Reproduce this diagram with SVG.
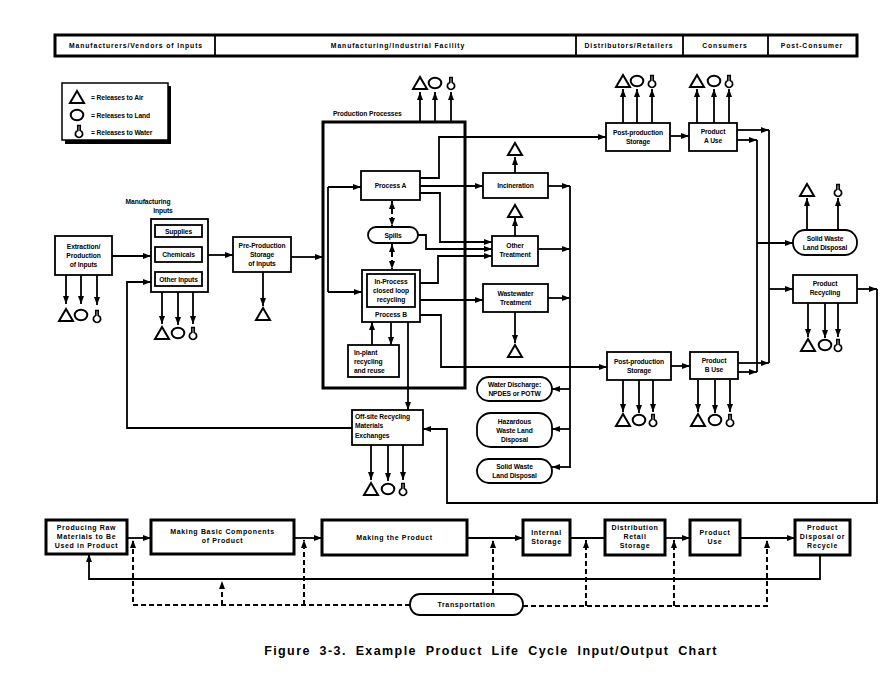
<svg xmlns="http://www.w3.org/2000/svg" width="890" height="677" viewBox="0 0 890 677">
<style>
.n{fill:#fff;stroke:#000;stroke-width:1.8}
.nb{fill:#fff;stroke:#000;stroke-width:3}
.t{font-family:"Liberation Sans",Arial,sans-serif;font-size:6.7px;font-weight:bold;text-anchor:middle;fill:#000;letter-spacing:-0.1px}
.tl{text-anchor:start}
.h{font-size:6.8px;letter-spacing:0.9px}
.f{font-size:7px;letter-spacing:0.65px}
.c{fill:none;stroke:#000;stroke-width:1.8}
.a{marker-end:url(#ah)}
.d{stroke-dasharray:5,3;stroke-width:2}
.s{fill:#fff;stroke:#000;stroke-width:2}
.sw{fill:#fff;stroke:#000;stroke-width:1.7}
.cap{font-family:"Liberation Sans",Arial,sans-serif;font-size:12.5px;font-weight:bold;text-anchor:middle;letter-spacing:1.4px;word-spacing:4px}
</style>
<defs>
<marker id="ah" markerUnits="userSpaceOnUse" markerWidth="8" markerHeight="6" refX="8" refY="3" orient="auto"><path d="M0,0 L8,3 L0,6 z" fill="#000"/></marker>
<marker id="ahs" markerUnits="userSpaceOnUse" markerWidth="8" markerHeight="6" refX="0" refY="3" orient="auto"><path d="M8,0 L0,3 L8,6 z" fill="#000"/></marker>
<g id="air"><polygon class="s" points="-7,6 0,-6 7,6"/></g>
<g id="land"><ellipse class="s" cx="0" cy="0" rx="6.3" ry="5.3"/></g>
<g id="water"><path class="sw" d="M-1.2,-6.5 L1.2,-6.5 L1.2,-1.5 A3.6,3.6 0 1 1 -1.2,-1.5 Z"/></g>
</defs>
<rect width="890" height="677" fill="#fff"/>

<g id="header">
<rect x="55" y="35" width="802" height="21" fill="#fff" stroke="#000" stroke-width="3"/>
<path d="M215,35 V56 M576,35 V56 M683,35 V56 M768,35 V56" stroke="#000" stroke-width="1.8"/>
<text class="t h" x="136" y="48">Manufacturers/Vendors  of  Inputs</text>
<text class="t h" x="398" y="48">Manufacturing/Industrial  Facility</text>
<text class="t h" x="629" y="48">Distributors/Retailers</text>
<text class="t h" x="725" y="48">Consumers</text>
<text class="t h" x="812" y="48">Post-Consumer</text>
</g>

<g id="legend">
<rect x="65" y="86" width="106" height="58" fill="#000"/>
<rect x="62" y="83" width="106" height="57" fill="#fff" stroke="#000" stroke-width="1.5"/>
<use href="#air" x="77" y="97"/>
<use href="#land" x="77" y="115"/>
<use href="#water" x="79" y="132"/>
<text class="t tl" x="91" y="100">= Releases to Air</text>
<text class="t tl" x="91" y="118">= Releases to Land</text>
<text class="t tl" x="91" y="135">= Releases to Water</text>
</g>

<g id="production-processes">
<text class="t tl" x="333" y="116">Production Processes</text>
<rect x="323" y="122" width="142" height="266" style="fill:none;stroke:#000;stroke-width:3"/>
<use href="#air" x="420" y="83"/><use href="#land" x="435" y="83"/><use href="#water" x="451" y="84"/>
</g>

<g id="connectors">
<path class="c a" d="M112,256 H151"/>
<path class="c a" d="M208,255 H233"/>
<path class="c a" d="M291,257 H323"/>
<path class="c" d="M328,187 V292"/>
<path class="c a" d="M328,187 H361"/>
<path class="c a" d="M328,292 H362"/>
<path class="c a" d="M66,275 V304"/><path class="c a" d="M81,275 V304"/><path class="c a" d="M97,275 V305"/>
<path class="c a" d="M162,292 V324"/><path class="c a" d="M178,292 V325"/><path class="c a" d="M193,292 V324"/>
<path class="c a" d="M263,272 V306"/>
<path class="c a" d="M420,122 V92"/><path class="c a" d="M435,122 V92"/><path class="c a" d="M451,122 V92"/>
<path class="c a" d="M420,178 H439 V137 H606"/>
<path class="c a" d="M420,186 H483"/>
<path class="c a" d="M420,193 H440 V242 H492"/>
<path class="c a" d="M418,235 H426 V249 H492"/>
<path class="c a" d="M420,283 H438 V256 H492"/>
<path class="c a" d="M420,300 H483"/>
<path class="c a" d="M420,315 H441 V367 H607"/>
<path class="c d a" d="M392,201 V226" marker-start="url(#ahs)"/>
<path class="c d a" d="M392,244 V269" marker-start="url(#ahs)"/>
<path class="c a" d="M372,345 V322"/>
<path class="c a" d="M391,322 V345"/>
<path class="c a" d="M408,322 V410"/>
<path class="c a" d="M352,428 H127 V282 H151"/>
<path class="c a" d="M857,289 H877"/>
<path class="c a" d="M877,289 V503 H447 V429 H423"/>
<path class="c a" d="M548,186 H570"/>
<path class="c a" d="M538,249 H570"/>
<path class="c a" d="M548,298 H570"/>
<path class="c" d="M570,186 V468"/>
<path class="c a" d="M570,389 H552"/>
<path class="c a" d="M570,429 H552"/>
<path class="c a" d="M570,467 H552"/>
<path class="c a" d="M515,173 V157"/>
<path class="c a" d="M515,236 V218"/>
<path class="c a" d="M515,312 V343"/>
<path class="c a" d="M623,123 V89"/><path class="c a" d="M637,123 V89"/><path class="c a" d="M652,123 V89"/>
<path class="c a" d="M670,136 H689"/>
<path class="c a" d="M697,123 V89"/><path class="c a" d="M714,123 V89"/><path class="c a" d="M729,123 V89"/>
<path class="c a" d="M737,130 H769"/>
<path class="c a" d="M737,140 H757"/>
<path class="c" d="M769,130 V363"/>
<path class="c" d="M757,140 V372"/>
<path class="c a" d="M757,243 H793"/>
<path class="c a" d="M769,289 H793"/>
<path class="c a" d="M738,363 H769"/>
<path class="c a" d="M738,372 H757"/>
<path class="c a" d="M671,366 H690"/>
<path class="c a" d="M623,380 V412"/><path class="c a" d="M639,380 V413"/><path class="c a" d="M653,380 V412"/>
<path class="c a" d="M698,380 V412"/><path class="c a" d="M715,380 V413"/><path class="c a" d="M730,380 V412"/>
<path class="c a" d="M807,230 V198"/><path class="c a" d="M838,230 V198"/>
<path class="c a" d="M808,303 V337"/><path class="c a" d="M825,303 V338"/><path class="c a" d="M838,303 V337"/>
<path class="c a" d="M371,445 V480"/><path class="c a" d="M388,445 V481"/><path class="c a" d="M403,445 V480"/>
<path class="c a" d="M127,538 H151"/>
<path class="c a" d="M294,538 H322"/>
<path class="c a" d="M467,538 H523"/>
<path class="c" d="M570,538 H605"/>
<path class="c a" d="M665,538 H690"/>
<path class="c a" d="M740,538 H795"/>
<path class="c a" d="M820,555 V579 H89 V554" stroke-width="2"/>
<path class="c d a" d="M410,605 H133 V540"/>
<path class="c d a" d="M222,605 V581"/>
<path class="c d a" d="M304,605 V540"/>
<path class="c d a" d="M493,594 V540"/>
<path class="c d a" d="M523,606 H767 V540"/>
<path class="c d a" d="M586,606 V540"/>
<path class="c d a" d="M674,606 V540"/>
</g>

<g id="extraction">
<rect class="n" x="55" y="236" width="57" height="39"/>
<text class="t" x="83.5" y="249">Extraction/</text>
<text class="t" x="83.5" y="258">Production</text>
<text class="t" x="83.5" y="267">of Inputs</text>
<use href="#air" x="66" y="315"/><use href="#land" x="81" y="315"/><use href="#water" x="97" y="317"/>
</g>

<g id="mfg-inputs">
<text class="t" x="148" y="204">Manufacturing</text>
<text class="t" x="163" y="213">Inputs</text>
<rect class="n" x="151" y="219" width="57" height="73" stroke-width="2.5"/>
<rect class="n" x="155" y="225" width="47" height="12"/>
<text class="t" x="178.5" y="233.5">Supplies</text>
<rect class="n" x="155" y="247" width="47" height="15"/>
<text class="t" x="178.5" y="257">Chemicals</text>
<rect class="n" x="155" y="272" width="47" height="14"/>
<text class="t" x="178.5" y="281.5">Other Inputs</text>
<use href="#air" x="162" y="333"/><use href="#land" x="178" y="333"/><use href="#water" x="193" y="334"/>
</g>

<g id="pre-production">
<rect class="n" x="233" y="237" width="58" height="35"/>
<text class="t" x="262" y="248">Pre-Production</text>
<text class="t" x="262" y="257">Storage</text>
<text class="t" x="262" y="266">of Inputs</text>
<use href="#air" x="263" y="314"/>
</g>

<g id="process-a">
<rect class="n" x="361" y="171" width="59" height="29"/>
<text class="t" x="390.5" y="188">Process A</text>
</g>

<g id="spills">
<rect class="n" x="368" y="227" width="50" height="16" rx="8"/>
<text class="t" x="393" y="237.5">Spills</text>
</g>

<g id="process-b">
<rect class="n" x="362" y="270" width="58" height="52"/>
<rect class="n" x="367" y="274" width="48" height="33"/>
<text class="t" x="391" y="284">In-Process</text>
<text class="t" x="391" y="293">closed loop</text>
<text class="t" x="391" y="302">recycling</text>
<text class="t" x="391" y="317">Process B</text>
</g>

<g id="in-plant">
<rect class="n" x="348" y="345" width="51" height="32"/>
<text class="t tl" x="354" y="355">In-plant</text>
<text class="t tl" x="354" y="364">recycling</text>
<text class="t tl" x="354" y="373">and reuse</text>
</g>

<g id="off-site">
<rect class="n" x="352" y="410" width="71" height="35"/>
<text class="t tl" x="355" y="419">Off-site Recycling</text>
<text class="t tl" x="355" y="428">Materials</text>
<text class="t tl" x="355" y="438">Exchanges</text>
<use href="#air" x="371" y="489"/><use href="#land" x="388" y="489"/><use href="#water" x="403" y="490"/>
</g>

<g id="incineration">
<rect class="n" x="483" y="173" width="65" height="25"/>
<text class="t" x="515.5" y="188">Incineration</text>
<use href="#air" x="515" y="149"/>
</g>

<g id="other-treatment">
<rect class="n" x="492" y="236" width="46" height="30"/>
<text class="t" x="515" y="248">Other</text>
<text class="t" x="515" y="257">Treatment</text>
<use href="#air" x="515" y="211"/>
</g>

<g id="wastewater">
<rect class="n" x="483" y="284" width="65" height="28"/>
<text class="t" x="515.5" y="296">Wastewater</text>
<text class="t" x="515.5" y="305">Treatment</text>
<use href="#air" x="515" y="351"/>
</g>

<g id="water-discharge">
<rect class="n" x="477" y="377" width="75" height="24" rx="12"/>
<text class="t" x="514.5" y="387">Water Discharge:</text>
<text class="t" x="514.5" y="396">NPDES or POTW</text>
</g>

<g id="hazardous">
<rect class="n" x="477" y="413" width="75" height="34" rx="14"/>
<text class="t" x="514.5" y="424">Hazardous</text>
<text class="t" x="514.5" y="433">Waste Land</text>
<text class="t" x="514.5" y="442">Disposal</text>
</g>

<g id="solid-waste-1">
<rect class="n" x="477" y="459" width="75" height="24" rx="12"/>
<text class="t" x="514.5" y="469">Solid Waste</text>
<text class="t" x="514.5" y="478">Land Disposal</text>
</g>

<g id="storage-a">
<rect class="n" x="606" y="123" width="64" height="28"/>
<text class="t" x="638" y="135">Post-production</text>
<text class="t" x="638" y="144">Storage</text>
<use href="#air" x="623" y="81"/><use href="#land" x="637" y="81"/><use href="#water" x="652" y="82"/>
</g>

<g id="product-a">
<rect class="n" x="689" y="123" width="48" height="28"/>
<text class="t" x="713" y="134">Product</text>
<text class="t" x="713" y="143">A Use</text>
<use href="#air" x="697" y="81"/><use href="#land" x="714" y="81"/><use href="#water" x="729" y="82"/>
</g>

<g id="solid-waste-2">
<rect class="n" x="793" y="230" width="64" height="25" rx="12"/>
<text class="t" x="825" y="241">Solid Waste</text>
<text class="t" x="825" y="250">Land Disposal</text>
<use href="#air" x="807" y="190"/><use href="#water" x="838" y="191"/>
</g>

<g id="product-recycling">
<rect class="n" x="793" y="275" width="64" height="28"/>
<text class="t" x="825" y="286">Product</text>
<text class="t" x="825" y="295">Recycling</text>
<use href="#air" x="808" y="345"/><use href="#land" x="825" y="345"/><use href="#water" x="838" y="346"/>
</g>

<g id="storage-b">
<rect class="n" x="607" y="352" width="64" height="28"/>
<text class="t" x="639" y="364">Post-production</text>
<text class="t" x="639" y="373">Storage</text>
<use href="#air" x="623" y="420"/><use href="#land" x="639" y="420"/><use href="#water" x="653" y="421"/>
</g>

<g id="product-b">
<rect class="n" x="690" y="352" width="48" height="27"/>
<text class="t" x="714" y="363">Product</text>
<text class="t" x="714" y="372">B Use</text>
<use href="#air" x="698" y="420"/><use href="#land" x="715" y="420"/><use href="#water" x="730" y="421"/>
</g>

<g id="raw-materials">
<rect class="nb" x="46" y="520" width="81" height="34"/>
<text class="t f" x="86.5" y="530">Producing Raw</text>
<text class="t f" x="86.5" y="539">Materials to Be</text>
<text class="t f" x="86.5" y="548">Used in Product</text>
</g>

<g id="basic-components">
<rect class="nb" x="151" y="520" width="143" height="34"/>
<text class="t f" x="222.5" y="534">Making Basic Components</text>
<text class="t f" x="222.5" y="543">of Product</text>
</g>

<g id="making-product">
<rect class="nb" x="322" y="520" width="145" height="35"/>
<text class="t f" x="394.5" y="540">Making the Product</text>
</g>

<g id="internal-storage">
<rect class="nb" x="523" y="520" width="47" height="35"/>
<text class="t f" x="546.5" y="535">Internal</text>
<text class="t f" x="546.5" y="544">Storage</text>
</g>

<g id="distribution">
<rect class="nb" x="605" y="520" width="60" height="35"/>
<text class="t f" x="635" y="530">Distribution</text>
<text class="t f" x="635" y="539">Retail</text>
<text class="t f" x="635" y="548">Storage</text>
</g>

<g id="product-use">
<rect class="nb" x="690" y="520" width="50" height="35"/>
<text class="t f" x="715" y="535">Product</text>
<text class="t f" x="715" y="544">Use</text>
</g>

<g id="disposal">
<rect class="nb" x="795" y="520" width="55" height="35"/>
<text class="t f" x="822.5" y="530">Product</text>
<text class="t f" x="822.5" y="539">Disposal or</text>
<text class="t f" x="822.5" y="548">Recycle</text>
</g>

<g id="transportation">
<rect class="n" x="410" y="594" width="113" height="21" rx="10" stroke-width="2.5"/>
<text class="t f" x="466.5" y="607">Transportation</text>
</g>

<text class="cap" x="491" y="655">Figure 3-3. Example Product Life Cycle Input/Output Chart</text>
</svg>
